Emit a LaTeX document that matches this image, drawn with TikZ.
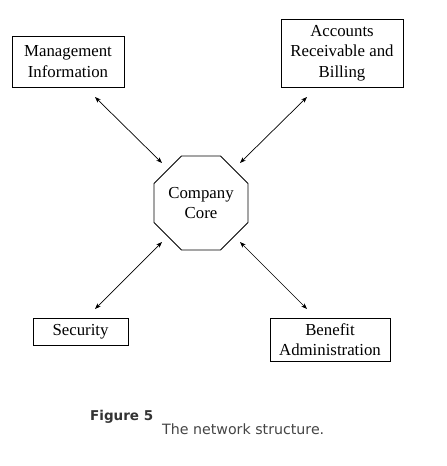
\documentclass[tikz,border=0pt]{standalone}
\usepackage{fontspec}
\setmainfont{Liberation Serif}
\newfontfamily\capfont{DejaVu Sans}
\usetikzlibrary{shapes.geometric,arrows.meta}
\definecolor{capgray}{HTML}{333333}
\definecolor{capgray2}{HTML}{444444}
\tikzset{
  box/.style={draw, line width=0.9pt, inner sep=0pt, align=center, font=\fontsize{16.8}{20.5}\selectfont},
  core/.style={draw, line width=0.9pt, regular polygon, regular polygon sides=8, minimum size=101.7pt, inner sep=0pt, align=center, font=\fontsize{16.8}{20.5}\selectfont},
  link/.style={line width=0.7pt, {Stealth[length=6pt,width=4.5pt]}-{Stealth[length=6pt,width=4.5pt]}},
}
\begin{document}
\begin{tikzpicture}[x=1pt,y=-1pt]
\useasboundingbox (0,0) rectangle (447,466);
\node[box, minimum width=112pt, minimum height=51pt] (mi) at (68,61.5) {Management\\Information};
\node[box, minimum width=122pt, minimum height=68pt] (ar) at (342,53) {Accounts\\Receivable and\\Billing};
\node[core] (co) at (201,203) {Company\\Core};
\node[box, minimum width=95pt, minimum height=27pt] (se) at (80.5,331.5) {Security};
\node[box, minimum width=120pt, minimum height=43pt] (be) at (330,339.5) {Benefit\\Administration};
\coordinate (miA) at (95,97);
\coordinate (coA) at (162,163);
\coordinate (arA) at (307,97);
\coordinate (coB) at (240,163);
\coordinate (seA) at (95,309);
\coordinate (coC) at (162,242);
\coordinate (beA) at (307,309);
\coordinate (coD) at (240,242);
\draw[link] (miA) -- (coA);
\draw[link] (arA) -- (coB);
\draw[link] (seA) -- (coC);
\draw[link] (beA) -- (coD);
\node[anchor=base west, inner sep=0pt, text=capgray, font=\capfont\bfseries\fontsize{13.5}{16}\selectfont] (fig) at (90,420) {Figure 5};
\node[anchor=base west, inner sep=0pt, text=capgray2, font=\capfont\fontsize{14.2}{16}\selectfont] (cap) at (162,434) {The network structure.};
\end{tikzpicture}
\end{document}
